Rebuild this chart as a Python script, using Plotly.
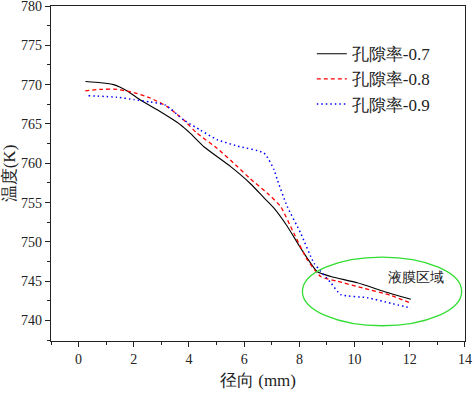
import plotly.graph_objects as go

# Radial position (mm) and temperature (K) for each porosity
x_07 = [0.25, 0.8, 1.27, 1.76, 2.24, 2.85, 3.69, 4.05, 4.54, 5.5, 6.23, 6.72, 7.08, 7.56, 8.05, 8.65, 9.14, 10.1, 11.07, 12.04]
y_07 = [770.4, 770.25, 770.0, 769.2, 768.05, 766.8, 764.9, 763.8, 762.1, 759.6, 757.4, 755.6, 754.3, 752.0, 749.2, 746.2, 745.6, 744.8, 743.7, 742.7]

x_08 = [0.24, 0.79, 1.39, 2.0, 2.6, 3.21, 3.81, 4.3, 5.02, 5.75, 6.23, 6.84, 7.32, 7.8, 8.29, 8.77, 9.38, 10.34, 11.31, 12.04]
y_08 = [769.2, 769.4, 769.4, 769.0, 768.3, 767.2, 765.5, 763.8, 761.9, 759.6, 758.0, 756.2, 754.5, 751.1, 747.7, 745.6, 745.0, 744.1, 743.2, 742.2]

x_09 = [0.36, 1.39, 2.0, 2.6, 3.15, 3.81, 4.42, 5.02, 5.75, 6.72, 7.08, 7.2, 7.56, 8.05, 8.53, 9.14, 9.5, 10.47, 11.31, 12.04]
y_09 = [768.6, 768.4, 768.1, 767.8, 767.4, 765.5, 764.2, 763.0, 762.2, 761.3, 759.2, 757.9, 754.5, 751.1, 747.3, 744.8, 743.3, 742.9, 742.2, 741.6]

names = ["孔隙率-0.7", "孔隙率-0.8", "孔隙率-0.9"]
x_ticks = [0, 2, 4, 6, 8, 10, 12, 14]
y_ticks = [740, 745, 750, 755, 760, 765, 770, 775, 780]

FONT = "'Liberation Serif', 'Times New Roman', serif"

fig = go.Figure()
fig.add_trace(go.Scatter(x=x_07, y=y_07, mode="lines", name=names[0],
                         line=dict(color="#000000", width=1.1, shape="spline", smoothing=0.5)))
fig.add_trace(go.Scatter(x=x_08, y=y_08, mode="lines", name=names[1],
                         line=dict(color="#ff0000", width=1.3, dash="4px,3px", shape="spline", smoothing=0.5)))
fig.add_trace(go.Scatter(x=x_09, y=y_09, mode="lines", name=names[2],
                         line=dict(color="#0000ff", width=1.5, dash="1.5px,3px", shape="spline", smoothing=0.5)))

fig.add_shape(type="circle", xref="x", yref="y", x0=8.11, x1=13.88, y0=739.34, y1=748.07,
              line=dict(color="#33dd33", width=1.3))
fig.add_annotation(x=12.21, y=745.5, xref="x", yref="y", text="液膜区域", showarrow=False,
                   font=dict(size=14, color="#222222", family=FONT))

axis_common = dict(showline=True, linecolor="#222222", linewidth=1.4, mirror=True,
                   ticks="outside", ticklen=5, tickwidth=1.2, tickcolor="#222222",
                   showgrid=False, zeroline=False, automargin=False,
                   ticklabeloverflow="allow",
                   tickfont=dict(size=14, color="#222222", family=FONT))

fig.update_xaxes(range=[-1, 14.001], tickvals=x_ticks,
                 minor=dict(ticks="outside", ticklen=3, dtick=1, tick0=0, tickcolor="#222222", tickwidth=1.2),
                 title=dict(text="径向 (mm)", font=dict(size=17, color="#222222", family=FONT), standoff=8),
                 **axis_common)
fig.update_yaxes(range=[737.4, 780.001], tickvals=y_ticks,
                 minor=dict(ticks="outside", ticklen=3, dtick=2.5, tick0=740, tickcolor="#222222", tickwidth=1.2),
                 title=dict(text="温度(K)", font=dict(size=17, color="#222222", family=FONT), standoff=6),
                 **axis_common)

fig.update_layout(
    width=473, height=394,
    margin=dict(l=51, r=8, t=6, b=53),
    paper_bgcolor="white", plot_bgcolor="white",
    showlegend=True,
    legend=dict(x=0.63, y=0.91, xanchor="left", yanchor="top",
                bgcolor="rgba(0,0,0,0)", borderwidth=0,
                font=dict(size=17, color="#222222", family=FONT),
                tracegroupgap=0, itemwidth=30),
)

fig.write_html("out.html", config={"displayModeBar": False},
               post_script="document.body.style.margin='0';document.body.style.overflow='hidden';")
